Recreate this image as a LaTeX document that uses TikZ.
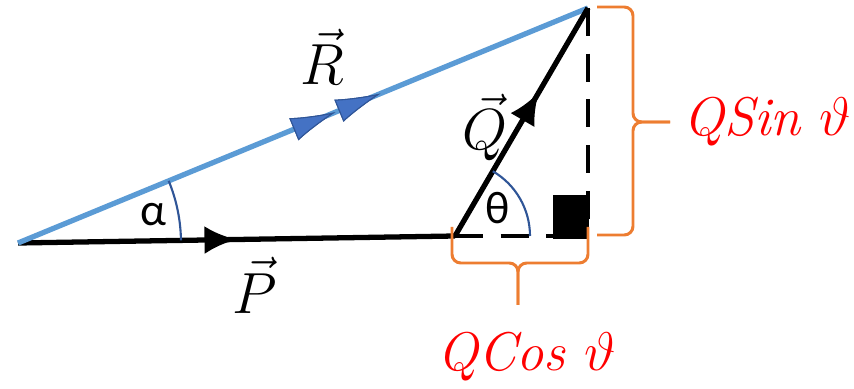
\RequirePackage{fix-cm}
\documentclass[tikz,border=0pt]{standalone}
\usepackage{fontspec}
\newfontfamily\greekfont{Carlito}
\usetikzlibrary{arrows.meta,calc,decorations.markings,angles}
\definecolor{rline}{HTML}{5B9BD5}
\definecolor{rhead}{HTML}{4472C4}
\definecolor{arcblue}{HTML}{2F5597}
\definecolor{braceorange}{HTML}{ED7D31}
\definecolor{comptext}{HTML}{FF0000}
\tikzset{>=Latex,
  every node/.style={font=\fontsize{33}{36}\selectfont},
  guide/.style={draw=black,line width=2.6pt,dash pattern=on 16pt off 10pt},
  midhead/.style={postaction={decorate},decoration={markings,
    mark=at position #1 with {\arrow{Latex[length=.64cm,width=.56cm]}}}},
  rhead/.style={postaction={decorate},decoration={markings,
    mark=at position #1 with {\arrow{Latex[length=.9cm,width=.48cm,fill=rhead,color=arcblue,line width=.6pt]}}}},
  anglearc/.style={draw=arcblue,line width=1.2pt},
  bracket/.style={draw=braceorange,line width=1.7pt,rounded corners=5pt},
  greeklabel/.style={font=\fontsize{26}{28}\selectfont\greekfont},
  complabel/.style={text=comptext,font=\fontsize{31}{34}\selectfont\itshape}}
\begin{document}
\begin{tikzpicture}[line width=3pt]
\useasboundingbox(0,0)rectangle(17.08,7.76);
\coordinate(O)at(.36,2.90);\coordinate(B)at(9.10,3.04);\coordinate(C)at(11.76,7.60);
\coordinate(D)at(C|-B);
\draw[guide](B)--(D);\draw[guide](C)--(D);
\fill([shift={(.02,-.06)}]D)rectangle([shift={(-.70,.82)}]D);
\draw[midhead=.5](O)--(B);
\draw[rline,rhead=.557,rhead=.636](O)--(C);
\draw[midhead=.63](B)--(C);
\pic[anglearc,angle radius=3.26cm]{angle=B--O--C};
\pic[anglearc,angle radius=1.5cm]{angle=D--B--C};
\node[anchor=base](rlabel)at(6.45,6.06){$\vec R$};
\node[anchor=base](plabel)at(5.10,1.50){$\vec P$};
\node[anchor=base](qlabel)at(9.70,4.76){$\vec Q$};
\node[greeklabel](alphalabel)at(3.06,3.46){α};
\node[greeklabel](thetalabel)at(9.96,3.60){θ};
\coordinate(sintop)at(11.94,7.62);\coordinate(sinbot)at(11.94,3.06);\coordinate(sintip)at(13.40,5.32);
\draw[bracket](sintop)-|([xshift=-.74cm]sintip)--(sintip);
\draw[bracket](sinbot)-|([xshift=-.74cm]sintip)--(sintip);
\coordinate(cosleft)at(9.04,3.22);\coordinate(cosright)at(11.76,3.22);\coordinate(costip)at(10.36,1.66);
\draw[bracket](cosleft)|-([yshift=.84cm]costip)--(costip);
\draw[bracket](cosright)|-([yshift=.84cm]costip)--(costip);
\node[complabel](sinlabel)at(15.34,5.32){QSin $\vartheta$};
\node[complabel](coslabel)at(10.54,0.62){QCos $\vartheta$};
\end{tikzpicture}
\end{document}
